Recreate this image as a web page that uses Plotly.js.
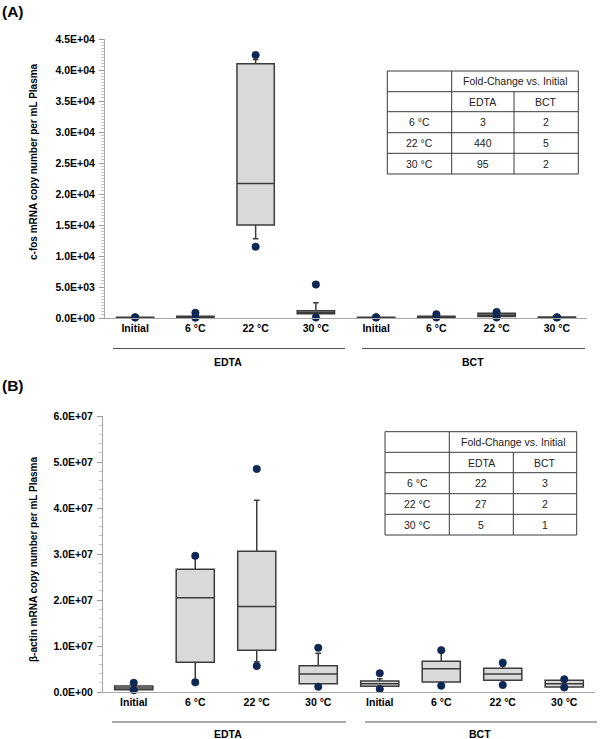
<!DOCTYPE html>
<html>
<head>
<meta charset="utf-8">
<script src="https://cdn.plot.ly/plotly-3.0.1.min.js"></script>
<style>html,body{margin:0;padding:0;background:#fff;}#chart{width:600px;height:739px;}</style>
</head>
<body>
<div id="chart"></div>
<script>
// ---------- data ----------
const categories = ["Initial", "6 °C", "22 °C", "30 °C", "Initial", "6 °C", "22 °C", "30 °C"];
const groups = ["EDTA", "BCT"];

// Panel A: c-fos mRNA copy number per mL plasma
const cfosQ1     = [60, 120, 15000, 700, 50, 130, 250, 60];
const cfosMedian = [100, 200, 21700, 900, 90, 200, 500, 100];
const cfosQ3     = [140, 300, 41000, 1150, 130, 300, 750, 150];
const cfosLow    = [40, 60, 12800, 400, 30, 80, 150, 40];
const cfosHigh   = [180, 450, 41700, 2450, 160, 500, 900, 200];
const cfosMin    = [80, 50, 11500, 100, 90, 100, 100, 90];
const cfosMax    = [120, 850, 42400, 5400, 110, 600, 970, 110];

// Panel B: beta-actin mRNA copy number per mL plasma
const actQ1     = [0.5e6, 6.45e6, 9.07e6, 1.8e6, 1.24e6, 2.17e6, 2.54e6, 1.09e6];
const actMedian = [0.87e6, 20.5e6, 18.6e6, 3.9e6, 1.8e6, 5.07e6, 3.9e6, 1.8e6];
const actQ3     = [1.3e6, 26.7e6, 30.6e6, 5.7e6, 2.39e6, 6.67e6, 5.14e6, 2.54e6];
const actLow    = [0.45e6, 2.6e6, 6.6e6, 1.3e6, 0.8e6, 1.5e6, 1.7e6, 1.0e6];
const actHigh   = [1.4e6, 29.1e6, 41.7e6, 8.4e6, 2.9e6, 8.9e6, 5.65e6, 2.7e6];
const actMin    = [0.37e6, 2.1e6, 5.65e6, 1.15e6, 0.65e6, 1.38e6, 1.52e6, 1.0e6];
const actMax    = [2.0e6, 29.6e6, 48.5e6, 9.6e6, 4.06e6, 9.1e6, 6.38e6, 2.75e6];

// Axis ticks
const cfosTickVals = [0, 5000, 10000, 15000, 20000, 25000, 30000, 35000, 40000, 45000];
const cfosTickText = ["0.0E+00", "5.0E+03", "1.0E+04", "1.5E+04", "2.0E+04", "2.5E+04", "3.0E+04", "3.5E+04", "4.0E+04", "4.5E+04"];
const actTickVals = [0, 1e7, 2e7, 3e7, 4e7, 5e7, 6e7];
const actTickText = ["0.0E+00", "1.0E+07", "2.0E+07", "3.0E+07", "4.0E+07", "5.0E+07", "6.0E+07"];

// Fold-change tables
const tableHeader = "Fold-Change vs. Initial";
const tableCols = ["EDTA", "BCT"];
const tableRows = ["6 °C", "22 °C", "30 °C"];
const foldA_EDTA = [3, 440, 95];
const foldA_BCT  = [2, 5, 2];
const foldB_EDTA = [22, 27, 5];
const foldB_BCT  = [3, 2, 1];

const titleA = "c-fos mRNA copy number per mL Plasma";
const titleB = "β-actin mRNA copy number per mL Plasma";

// ---------- helpers ----------
const W = 600, H = 739;
const fx = p => p / W;
const fy = p => 1 - p / H;
const FONT = "Liberation Sans, Arial, sans-serif";
const pos = categories.map((c, i) => i);

function boxTrace(xa, ya, q1, med, q3, lo, hi) {
  return {
    type: "box", xaxis: xa, yaxis: ya,
    x: pos, q1: q1, median: med, q3: q3, lowerfence: lo, upperfence: hi,
    width: 0.62, whiskerwidth: 0.15, boxpoints: false,
    fillcolor: "#d9d9d9",
    line: {color: "#3c3c3c", width: 1.5},
    showlegend: false, hoverinfo: "skip"
  };
}
function dotTrace(xa, ya, mins, maxs) {
  return {
    type: "scatter", mode: "markers", xaxis: xa, yaxis: ya,
    x: pos.concat(pos), y: mins.concat(maxs),
    marker: {color: "#0d2857", size: 7.5, line: {color: "#0a1f45", width: 0.5}},
    showlegend: false, hoverinfo: "skip", cliponaxis: false
  };
}

const data = [
  boxTrace("x", "y", cfosQ1, cfosMedian, cfosQ3, cfosLow, cfosHigh),
  dotTrace("x", "y", cfosMin, cfosMax),
  boxTrace("x2", "y2", actQ1, actMedian, actQ3, actLow, actHigh),
  dotTrace("x2", "y2", actMin, actMax)
];

const tickFont = {family: FONT, size: 10.5, color: "#000", weight: 700};
function xAxis(domain, anchor) {
  return {
    domain: domain, anchor: anchor, range: [-0.5, 7.5],
    tickmode: "array", tickvals: pos, ticktext: categories,
    showline: true, linecolor: "#a6a6a6", linewidth: 1,
    ticks: "", showgrid: false, zeroline: false,
    tickfont: tickFont, fixedrange: true
  };
}
function yAxis(domain, anchor, range, vals, text, minorStep) {
  return {
    domain: domain, anchor: anchor, range: range,
    tickmode: "array", tickvals: vals, ticktext: text,
    showline: true, linecolor: "#a6a6a6", linewidth: 1,
    ticks: "outside", ticklen: 5, tickcolor: "#9a9a9a", tickwidth: 1,
    ticklabelstandoff: 2,
    minor: {tickmode: "linear", tick0: 0, dtick: minorStep, ticks: "outside", ticklen: 3, tickcolor: "#c4c4c4", tickwidth: 1, showgrid: false},
    showgrid: false, zeroline: false, tickfont: tickFont, fixedrange: true
  };
}

const shapes = [];
const annotations = [];

function txt(x, y, text, opts) {
  annotations.push(Object.assign({
    xref: "paper", yref: "paper", x: fx(x), y: fy(y), text: text,
    showarrow: false, xanchor: "center", yanchor: "middle",
    font: {family: FONT, size: 10.5, color: "#000", weight: 700}
  }, opts || {}));
}
function line(x0, y0, x1, y1, color, width) {
  shapes.push({type: "line", xref: "paper", yref: "paper",
    x0: fx(x0), y0: fy(y0), x1: fx(x1), y1: fy(y1),
    line: {color: color, width: width}});
}

// panel labels
txt(0, 12, "(A)", {xanchor: "left", font: {family: FONT, size: 15.5, color: "#000", weight: 700}});
txt(0, 385, "(B)", {xanchor: "left", font: {family: FONT, size: 15.5, color: "#000", weight: 700}});

// y titles
txt(33, 162, titleA, {textangle: -90, font: {family: FONT, size: 10, color: "#000", weight: 700}});
txt(33, 560, titleB, {textangle: -90, font: {family: FONT, size: 10, color: "#000", weight: 700}});

// group lines and labels
line(113, 348.5, 345, 348.5, "#555", 1);
line(362, 348.5, 585, 348.5, "#555", 1);
txt(228, 362, groups[0]);
txt(473, 362, groups[1]);
line(112, 722, 346, 722, "#555", 1);
line(365, 722, 597, 722, "#555", 1);
txt(228, 734, groups[0]);
txt(480, 734, groups[1]);

// tables
function drawTable(left, c1, c2, right, rows, edta, bct) {
  const col = "#3a3a3a";
  const top = rows[0], bottom = rows[rows.length - 1];
  line(left, top, right, top, col, 1);
  line(left, bottom, right, bottom, col, 1);
  line(left, top, left, bottom, col, 1);
  line(right, top, right, bottom, col, 1);
  for (let i = 1; i < rows.length - 1; i++) line(left, rows[i], right, rows[i], col, 1);
  line(c1, top, c1, bottom, col, 1);
  line(c2, rows[1], c2, bottom, col, 1);
  const tf = {family: FONT, size: 10.5, color: "#222", weight: 400};
  const mid = (a, b) => (a + b) / 2;
  txt(mid(c1, right), mid(rows[0], rows[1]), tableHeader, {font: tf});
  txt(mid(c1, c2), mid(rows[1], rows[2]), tableCols[0], {font: tf});
  txt(mid(c2, right), mid(rows[1], rows[2]), tableCols[1], {font: tf});
  tableRows.forEach((r, i) => {
    const y = mid(rows[i + 2], rows[i + 3]);
    txt(mid(left, c1), y, r, {font: tf});
    txt(mid(c1, c2), y, String(edta[i]), {font: tf});
    txt(mid(c2, right), y, String(bct[i]), {font: tf});
  });
}
drawTable(387.3, 451.7, 514, 578.3, [71, 91.7, 111.7, 132.7, 153.3, 174], foldA_EDTA, foldA_BCT);
drawTable(385, 449.3, 513.3, 576.7, [431.7, 452.3, 472.7, 493.7, 514.3, 535], foldB_EDTA, foldB_BCT);

const layout = {
  width: W, height: H,
  margin: {l: 0, r: 0, t: 0, b: 0},
  paper_bgcolor: "#fff", plot_bgcolor: "rgba(0,0,0,0)",
  showlegend: false,
  font: {family: FONT, color: "#000"},
  xaxis: xAxis([fx(105), fx(587)], "y"),
  yaxis: yAxis([fy(318), fy(39)], "x", [0, 45000], cfosTickVals, cfosTickText, 500),
  xaxis2: xAxis([fx(103), fx(595)], "y2"),
  yaxis2: yAxis([fy(692), fy(416)], "x2", [0, 6e7], actTickVals, actTickText, 2e6),
  shapes: shapes,
  annotations: annotations
};

Plotly.newPlot("chart", data, layout, {staticPlot: true, displayModeBar: false});
</script>
</body>
</html>
